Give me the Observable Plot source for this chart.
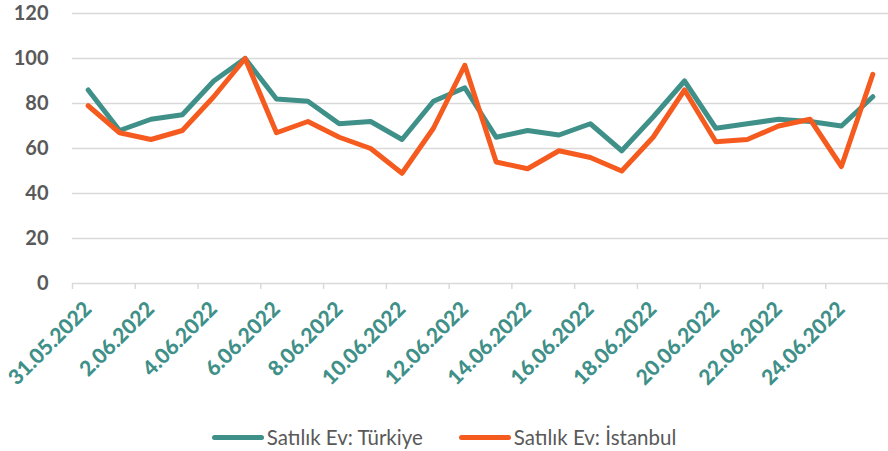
<!DOCTYPE html>
<html>
<head>
<meta charset="utf-8">
<script src="https://cdn.jsdelivr.net/npm/d3@7"></script>
<script src="https://cdn.jsdelivr.net/npm/@observablehq/plot@0.6"></script>
<style>
  html, body { margin: 0; padding: 0; background: #fff; }
  #chart { width: 888px; height: 451px; overflow: hidden; }
  .legend { display: flex; justify-content: center; align-items: center; height: 39px; padding-top: 11px; box-sizing: border-box;
    font-family: Lato, "Open Sans", sans-serif; font-size: 20.5px; color: #595959; padding-left: 0; }
  .item { display: flex; align-items: center; margin: 0 18px; }
  .sw { width: 52px; height: 5px; border-radius: 3px; margin-right: 3px; }
</style>
</head>
<body>
<div id="chart"></div>
<script>
const dates = ["31.05.2022","1.06.2022","2.06.2022","3.06.2022","4.06.2022","5.06.2022","6.06.2022","7.06.2022","8.06.2022","9.06.2022","10.06.2022","11.06.2022","12.06.2022","13.06.2022","14.06.2022","15.06.2022","16.06.2022","17.06.2022","18.06.2022","19.06.2022","20.06.2022","21.06.2022","22.06.2022","23.06.2022","24.06.2022","25.06.2022"];
const turkiye = [86,68,73,75,90,100,82,81,71,72,64,81,87,65,68,66,71,59,74,90,69,71,73,72,70,83];
const istanbul = [79,67,64,68,83,100,67,72,65,60,49,69,97,54,51,59,56,50,65,86,63,64,70,73,52,93];
const seriesNames = ["Satılık Ev: Türkiye", "Satılık Ev: İstanbul"];
const colors = ["#3F9088", "#F55A1E"];
const yTicks = [0,20,40,60,80,100,120];

const rows = [];
dates.forEach((d,i) => {
  rows.push({i, date:d, series: seriesNames[0], value: turkiye[i]});
  rows.push({i, date:d, series: seriesNames[1], value: istanbul[i]});
});

const font = "Lato, 'Open Sans', sans-serif";
const plot = Plot.plot({
  width: 888,
  height: 412,
  marginLeft: 72,
  marginRight: 0,
  marginTop: 13,
  marginBottom: 129,
  style: {fontFamily: font, background: "#fff"},
  x: {type: "linear", domain: [-0.5, dates.length - 0.5]},
  y: {domain: [0, 120]},
  color: {domain: seriesNames, range: colors},
  marks: [
    Plot.gridY({ticks: yTicks, stroke: "#D9D9D9", strokeOpacity: 1, strokeWidth: 1.5}),
    Plot.axisY({ticks: yTicks, tickSize: 0, tickPadding: 24, label: null, fontSize: 20, fontWeight: "bold", fill: "#595959"}),
    Plot.axisX({ticks: d3.range(-0.5, dates.length, 2), tickSize: 6, text: null, stroke: "#D9D9D9", strokeWidth: 1.5, label: null}),
    Plot.axisX({ticks: d3.range(0, dates.length, 2), tickFormat: i => dates[i], tickRotate: -45, tickSize: 0, tickPadding: 22, label: null, fontSize: 21, fontWeight: 900, fill: colors[0]}),
    Plot.lineY(rows, {x: "i", y: "value", z: "series", stroke: "series", strokeWidth: 5, strokeLinejoin: "round", strokeLinecap: "round"})
  ]
});
document.getElementById("chart").appendChild(plot);

const legend = document.createElement("div");
legend.className = "legend";
seriesNames.forEach((n, k) => {
  const it = document.createElement("div");
  it.className = "item";
  const sw = document.createElement("div");
  sw.className = "sw";
  sw.style.background = colors[k];
  const t = document.createElement("span");
  t.textContent = n;
  it.appendChild(sw); it.appendChild(t);
  legend.appendChild(it);
});
document.getElementById("chart").appendChild(legend);
</script>
</body>
</html>
